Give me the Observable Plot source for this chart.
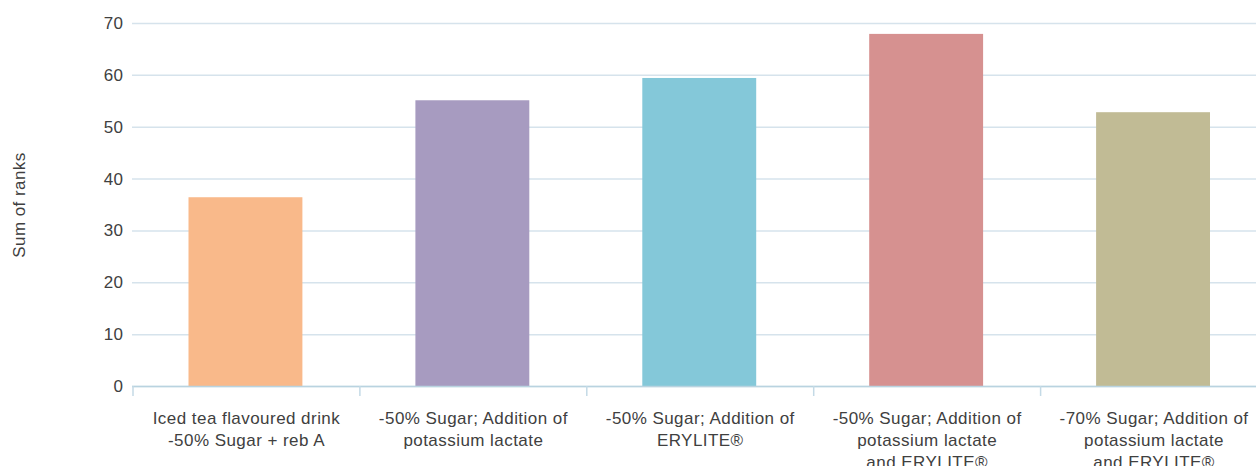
<!DOCTYPE html>
<html>
<head>
<meta charset="utf-8">
<script src="https://cdn.jsdelivr.net/npm/d3@7"></script>
<script src="https://cdn.jsdelivr.net/npm/@observablehq/plot@0.6"></script>
<style>
  html, body { margin: 0; padding: 0; background: #fff; overflow: hidden; }
  svg { overflow: hidden; }
  svg text { letter-spacing: 0.45px; }
</style>
</head>
<body>
<div id="chart"></div>
<script>
const categories = [
  "Iced tea flavoured drink\n-50% Sugar + reb A",
  "-50% Sugar; Addition of\npotassium lactate",
  "-50% Sugar; Addition of\nERYLITE®",
  "-50% Sugar; Addition of\npotassium lactate\nand ERYLITE®",
  "-70% Sugar; Addition of\npotassium lactate\nand ERYLITE®"
];
const values = [36.4, 55.1, 59.4, 67.9, 52.8];
const colors = ["#f9b98a", "#a79bc0", "#84c8d9", "#d69190", "#c1bb95"];
const yTicks = [0, 10, 20, 30, 40, 50, 60, 70];
const yLabel = "Sum of ranks";

const data = categories.map((c, i) => ({i, label: c, value: values[i], color: colors[i]}));
const bounds = d3.range(categories.length + 1);

const font = "'Liberation Sans', Arial, Helvetica, sans-serif";

const chart = Plot.plot({
  width: 1256,
  height: 466,
  marginTop: 23,
  marginBottom: 80,
  marginLeft: 132,
  marginRight: 0,
  style: {fontFamily: font, fontSize: "17px", color: "#404040", background: "#fff"},
  x: {type: "linear", domain: [0, categories.length], range: [132.5, 1267]},
  y: {type: "linear", domain: [0, 70]},
  marks: [
    Plot.gridY(yTicks, {stroke: "#d6e3ec", strokeOpacity: 1, strokeWidth: 1.5}),
    Plot.axisY(yTicks, {tickSize: 0, tickPadding: 9, fontSize: 17, fill: "#404040", label: null}),
    Plot.rectY(data, {x1: d => d.i, x2: d => d.i + 1, y1: 0, y2: "value", fill: d => d.color, insetLeft: 56, insetRight: 57}),
    Plot.ruleY([0], {stroke: "#b9d3e0", strokeWidth: 1.5}),
    Plot.axisX(bounds, {tickSize: 10, tickFormat: () => "", stroke: "#c4dae6", strokeWidth: 1.5, strokeOpacity: 1, label: null}),
    Plot.text(data, {x: d => d.i + 0.5, y: 0, text: "label", lineAnchor: "top", dy: 22, lineHeight: 1.3, fontSize: 17, fill: "#404040"}),
    Plot.text([yLabel], {frameAnchor: "left", textAnchor: "middle", rotate: -90, dx: -113, fontSize: 17, fill: "#404040"})
  ]
});
document.getElementById("chart").appendChild(chart);
</script>
</body>
</html>
